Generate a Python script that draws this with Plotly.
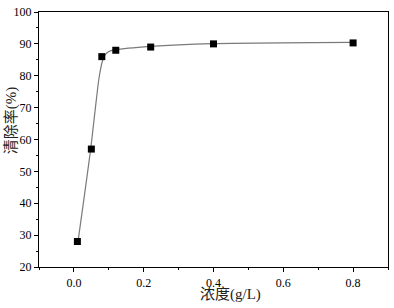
import plotly.graph_objects as go

conc = [0.01, 0.05, 0.08, 0.12, 0.22, 0.40, 0.80]
rate = [28, 57, 86, 88, 89, 90, 90.3]

fit_x = [0.012, 0.048, 0.062, 0.072, 0.081, 0.089, 0.10, 0.118, 0.219, 0.397, 0.80]
fit_y = [28.2, 57, 70.3, 79.3, 84.3, 86.5, 87.6, 88.1, 89.2, 90.1, 90.5]

x_ticks = [0.0, 0.2, 0.4, 0.6, 0.8]
x_ticklabels = ["0.0", "0.2", "0.4", "0.6", "0.8"]
y_ticks = [20, 30, 40, 50, 60, 70, 80, 90, 100]
x_title = "浓度(g/L)"
y_title = "清除率(%)"

tick_fam = "Liberation Serif"
title_fam = "Liberation Serif, Noto Sans CJK SC"

fig = go.Figure()
fig.add_trace(go.Scatter(x=fit_x, y=fit_y, mode="lines",
                         line=dict(color="#7a7a7a", width=1.2, shape="spline", smoothing=0.8),
                         hoverinfo="skip", showlegend=False))
fig.add_trace(go.Scatter(x=conc, y=rate, mode="markers",
                         marker=dict(symbol="square", size=7, color="black"),
                         showlegend=False))

axis_common = dict(showline=True, linecolor="black", linewidth=1.3, mirror=True,
                   ticks="outside", ticklen=4, tickwidth=1, tickcolor="black",
                   showgrid=False, zeroline=False, automargin=False,
                   tickfont=dict(family=tick_fam, size=12, color="black"))

fig.update_xaxes(range=[-0.1, 0.9], tickvals=x_ticks, ticktext=x_ticklabels,
                 minor=dict(tickvals=[-0.1, 0.1, 0.3, 0.5, 0.7, 0.9], ticks="outside", ticklen=2, tickcolor="black"),
                 **axis_common)
fig.update_yaxes(range=[20, 100], tickvals=y_ticks,
                 minor=dict(dtick=5, ticks="outside", ticklen=2, tickcolor="black"),
                 **axis_common)

fig.add_annotation(text=x_title, xref="paper", yref="paper", x=0.55, y=-0.108,
                   xanchor="center", yanchor="middle", showarrow=False,
                   font=dict(family=title_fam, size=15, color="#222"))
fig.add_annotation(text=y_title, xref="paper", yref="paper", x=-0.08, y=0.576,
                   xanchor="center", yanchor="middle", textangle=-90, showarrow=False,
                   font=dict(family=title_fam, size=15, color="#222"))

fig.update_layout(width=394, height=308, margin=dict(l=39, r=6, t=12, b=41),
                  font=dict(family=title_fam),
                  paper_bgcolor="white", plot_bgcolor="white")

fig.write_html("out.html", config={"displayModeBar": False},
               post_script="document.body.style.margin='0';")
